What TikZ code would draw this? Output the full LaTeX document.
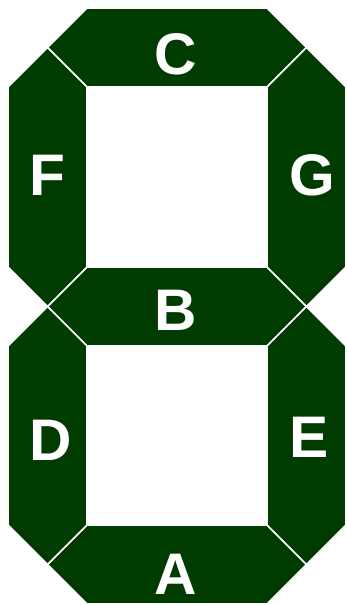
\documentclass[tikz,border=0pt]{standalone}
\usepackage{fontspec}
\setsansfont{Liberation Sans}
\usetikzlibrary{positioning}
\definecolor{segc}{RGB}{0,59,0}

\begin{document}
\begin{tikzpicture}[x=0.75pt,y=-0.75pt,
  seg/.style={fill=segc,draw=white,line width=1.2pt,line join=miter},
  lbl/.style={text=white,inner sep=0pt,font=\sffamily\bfseries\fontsize{44}{44}\selectfont}]
\useasboundingbox (0,0) rectangle (346,605);
% horizontal segments
\path[seg](87,8)--(267,8)--(306.5,47.5)--(267,87)--(87,87)--(47.5,47.5)--cycle;
\path[seg](87,267)--(267,267)--(306.5,306.5)--(267,346)--(87,346)--(47.5,306.5)--cycle;
\path[seg](87,525)--(267,525)--(306.5,564.5)--(267,604)--(87,604)--(47.5,564.5)--cycle;
% vertical segments
\path[seg](47.5,47.5)--(87,87)--(87,267)--(47.5,306.5)--(8,267)--(8,87)--cycle;
\path[seg](306.5,47.5)--(346,87)--(346,267)--(306.5,306.5)--(267,267)--(267,87)--cycle;
\path[seg](47.5,306.5)--(87,346)--(87,525)--(47.5,564.5)--(8,525)--(8,346)--cycle;
\path[seg](306.5,306.5)--(346,346)--(346,525)--(306.5,564.5)--(267,525)--(267,346)--cycle;
% labels
\node[lbl](c) at (176,54){C};
\node[lbl](f) at (47.5,175){F};
\node[lbl](g) at (312,175){G};
\node[lbl](b) at (176,310){B};
\node[lbl](d) at (51,440){D};
\node[lbl](e) at (309.5,437){E};
\node[lbl](a) at (176,574){A};
\end{tikzpicture}
\end{document}
